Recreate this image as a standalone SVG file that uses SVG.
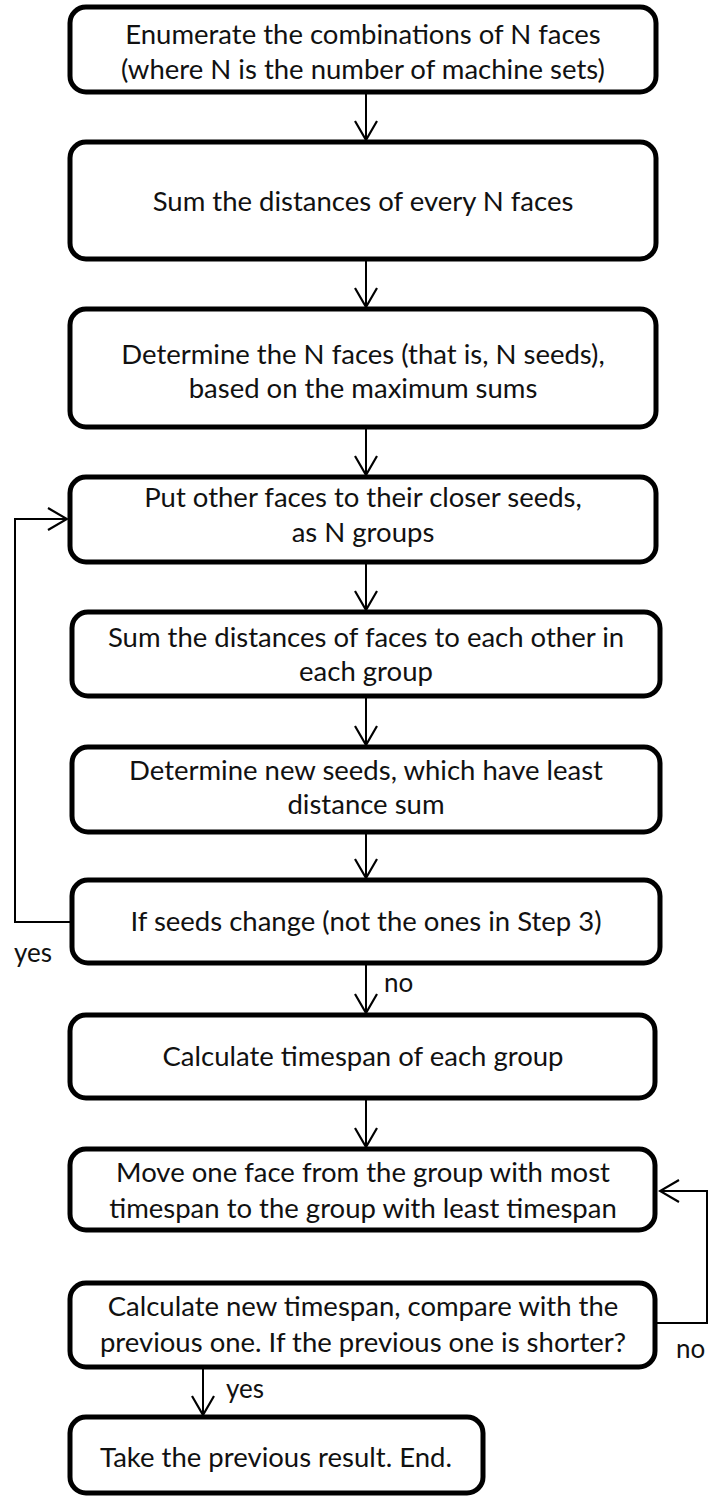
<svg xmlns="http://www.w3.org/2000/svg" width="708" height="1496" viewBox="0 0 708 1496">
  <style>
    .box { fill: #ffffff; stroke: #000000; stroke-width: 5; }
    .t { font-family: Lato, "Liberation Sans", sans-serif; font-size: 27.5px; fill: #111111; text-anchor: middle; }
    .lbl { font-family: Lato, "Liberation Sans", sans-serif; font-size: 26px; fill: #111111; }
    .wire { fill: none; stroke: #000000; stroke-width: 2; }
  </style>
  <defs>
    <marker id="arrow" viewBox="0 0 22 24" refX="20" refY="12" markerWidth="22" markerHeight="24" markerUnits="userSpaceOnUse" orient="auto">
      <path d="M1,1 L20,12 L1,23" fill="none" stroke="#000000" stroke-width="2.2"/>
    </marker>
  </defs>
  <rect width="708" height="1496" fill="#ffffff"/>

  <g id="connectors">
    <line class="wire" x1="366" y1="94" x2="366" y2="140" marker-end="url(#arrow)"/>
    <line class="wire" x1="366" y1="261" x2="366" y2="307" marker-end="url(#arrow)"/>
    <line class="wire" x1="366" y1="429" x2="366" y2="475" marker-end="url(#arrow)"/>
    <line class="wire" x1="366" y1="564" x2="366" y2="610" marker-end="url(#arrow)"/>
    <line class="wire" x1="366" y1="698" x2="366" y2="745" marker-end="url(#arrow)"/>
    <line class="wire" x1="366" y1="834" x2="366" y2="878" marker-end="url(#arrow)"/>
    <line class="wire" x1="366" y1="965" x2="366" y2="1013" marker-end="url(#arrow)"/>
    <line class="wire" x1="366" y1="1100" x2="366" y2="1147" marker-end="url(#arrow)"/>
    <line class="wire" x1="203" y1="1369" x2="203" y2="1415" marker-end="url(#arrow)"/>
    <!-- loop back from the seed-change test -->
    <polyline class="wire" points="70,922 15,922 15,519 67,519" marker-end="url(#arrow)"/>
    <!-- loop back from the timespan comparison -->
    <polyline class="wire" points="657,1323 707,1323 707,1191 660,1191" marker-end="url(#arrow)"/>
    <text class="lbl" x="14" y="962">yes</text>
    <text class="lbl" x="384" y="992">no</text>
    <text class="lbl" x="676" y="1358">no</text>
    <text class="lbl" x="226" y="1398">yes</text>
  </g>

  <g id="step1">
    <rect class="box" x="70" y="7" width="586" height="85" rx="16"/>
    <text class="t" x="363" y="44">Enumerate the combinations of N faces</text>
    <text class="t" x="363" y="79">(where N is the number of machine sets)</text>
  </g>
  <g id="step2">
    <rect class="box" x="70" y="142" width="586" height="117" rx="16"/>
    <text class="t" x="363" y="211">Sum the distances of every N faces</text>
  </g>
  <g id="step3">
    <rect class="box" x="70" y="309" width="586" height="118" rx="16"/>
    <text class="t" x="363" y="364">Determine the N faces (that is, N seeds),</text>
    <text class="t" x="363" y="398">based on the maximum sums</text>
  </g>
  <g id="step4">
    <rect class="box" x="70" y="477" width="586" height="85" rx="16"/>
    <text class="t" x="363" y="507">Put other faces to their closer seeds,</text>
    <text class="t" x="363" y="542">as N groups</text>
  </g>
  <g id="step5">
    <rect class="box" x="72" y="612" width="588" height="84" rx="16"/>
    <text class="t" x="366" y="647">Sum the distances of faces to each other in</text>
    <text class="t" x="366" y="681">each group</text>
  </g>
  <g id="step6">
    <rect class="box" x="72" y="747" width="588" height="85" rx="16"/>
    <text class="t" x="366" y="780">Determine new seeds, which have least</text>
    <text class="t" x="366" y="814">distance sum</text>
  </g>
  <g id="step7">
    <rect class="box" x="72" y="880" width="588" height="83" rx="16"/>
    <text class="t" x="366" y="931">If seeds change (not the ones in Step 3)</text>
  </g>
  <g id="step8">
    <rect class="box" x="70" y="1015" width="585" height="83" rx="16"/>
    <text class="t" x="363" y="1066">Calculate timespan of each group</text>
  </g>
  <g id="step9">
    <rect class="box" x="70" y="1149" width="585" height="81" rx="16"/>
    <text class="t" x="363" y="1182">Move one face from the group with most</text>
    <text class="t" x="363" y="1218">timespan to the group with least timespan</text>
  </g>
  <g id="step10">
    <rect class="box" x="70" y="1283" width="585" height="84" rx="16"/>
    <text class="t" x="363" y="1316">Calculate new timespan, compare with the</text>
    <text class="t" x="363" y="1352">previous one. If the previous one is shorter?</text>
  </g>
  <g id="step11">
    <rect class="box" x="70" y="1417" width="413" height="76" rx="16"/>
    <text class="t" x="276" y="1467">Take the previous result. End.</text>
  </g>
</svg>
